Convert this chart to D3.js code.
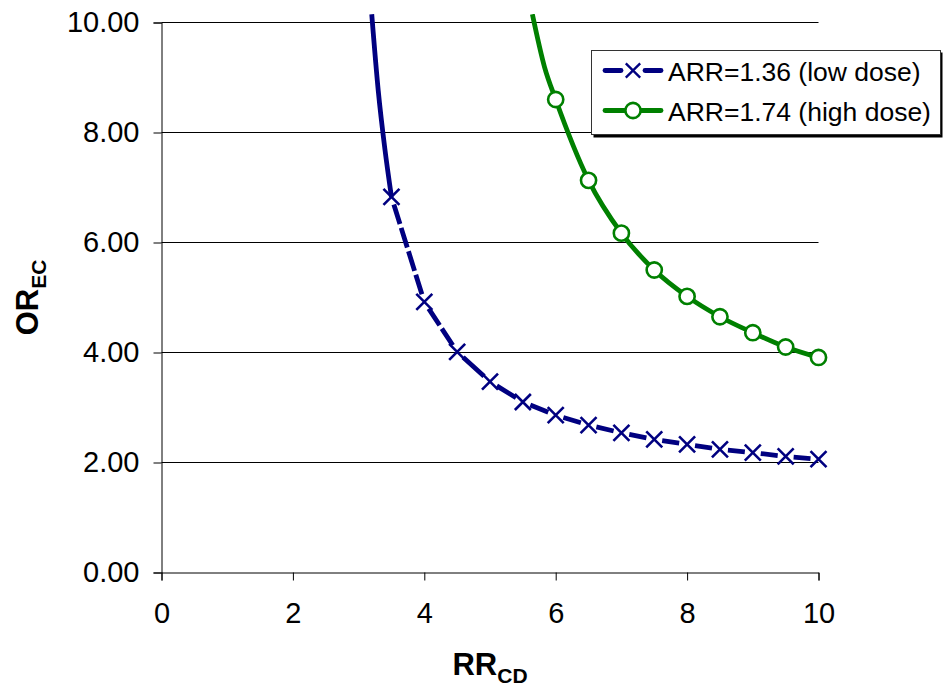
<!DOCTYPE html>
<html>
<head>
<meta charset="utf-8">
<script src="https://cdn.jsdelivr.net/npm/d3@7"></script>
<style>
    html, body { margin: 0; padding: 0; background: #fff; }
    svg text { font-family: Arial, 'Liberation Sans', sans-serif; fill: #000; }
</style>
</head>
<body>
<div id="chart"></div>
<script>
// values
const xTicks = [0, 2, 4, 6, 8, 10];
const yTicks = [0, 2, 4, 6, 8, 10];

const lowDoseRR = [3.5, 4, 4.5, 5, 5.5, 6, 6.5, 7, 7.5, 8, 8.5, 9, 9.5, 10];
const lowDoseOR = [6.83, 4.92, 4.01, 3.47, 3.10, 2.86, 2.68, 2.54, 2.42, 2.33, 2.24, 2.18, 2.11, 2.06];
// unmarked steep part running off the top of the plot
const lowDoseLeadRR = [3.2, 3.3, 3.4, 3.5];
const lowDoseLeadOR = [10.15, 8.75, 7.7, 6.83];

const highDoseRR = [6, 6.5, 7, 7.5, 8, 8.5, 9, 9.5, 10];
const highDoseOR = [8.60, 7.13, 6.17, 5.50, 5.02, 4.65, 4.36, 4.10, 3.91];
const highDoseLeadRR = [5.645, 5.83];
const highDoseLeadOR = [10.15, 9.19];

const legendLabels = ['ARR=1.36 (low dose)', 'ARR=1.74 (high dose)'];

let width = 951,
    height = 690,
    plot = {left: 161.5, right: 818.5, top: 22.5, bottom: 572.5},
    navy = '#000080',
    green = '#008000',
    lineWidth = 4.8,
    tickFont = '29px';

let svg = d3.select('#chart').append('svg')
    .attr('width', width)
    .attr('height', height);

let x = d3.scaleLinear().domain([0, 10]).range([plot.left, plot.right]);
let y = d3.scaleLinear().domain([0, 10]).range([plot.bottom, plot.top]);

svg.append('defs').append('clipPath')
    .attr('id', 'plotClip')
    .append('rect')
    .attr('x', plot.left)
    .attr('y', 14)
    .attr('width', plot.right - plot.left + 20)
    .attr('height', plot.bottom - 14);

// gridlines
svg.append('g')
    .selectAll('line')
    .data(yTicks.filter(d => d > 0))
    .join('line')
    .attr('x1', plot.left)
    .attr('x2', plot.right)
    .attr('y1', d => y(d))
    .attr('y2', d => y(d))
    .attr('stroke', '#000')
    .attr('stroke-width', 1);

// y axis
let yAxis = svg.append('g')
    .attr('transform', `translate(${plot.left}, 0)`)
    .call(d3.axisLeft(y).tickValues(yTicks).tickSize(8).tickPadding(14).tickFormat(d3.format('.2f')));
yAxis.select('.domain').attr('stroke', '#000');
yAxis.selectAll('.tick line').attr('stroke', '#000');
yAxis.selectAll('.tick text')
    .style('font-size', tickFont)
    .attr('font-family', null);

// x axis
let xAxis = svg.append('g')
    .attr('transform', `translate(0, ${plot.bottom})`)
    .call(d3.axisBottom(x).tickValues(xTicks).tickSize(8).tickPadding(22).tickFormat(d3.format('d')));
xAxis.select('.domain').attr('stroke', '#000');
xAxis.selectAll('.tick line').attr('stroke', '#000');
xAxis.selectAll('.tick text')
    .style('font-size', tickFont)
    .attr('font-family', null);

// axis titles
let xTitle = svg.append('text')
    .attr('x', (plot.left + plot.right) / 2)
    .attr('y', 675)
    .attr('text-anchor', 'middle')
    .style('font-size', '31px')
    .style('font-weight', 'bold');
xTitle.append('tspan').text('RR');
xTitle.append('tspan').attr('dy', 8).style('font-size', '21px').text('CD');

let yTitle = svg.append('text')
    .attr('transform', `translate(38, ${(plot.top + plot.bottom) / 2}) rotate(-90)`)
    .attr('text-anchor', 'middle')
    .style('font-size', '31px')
    .style('font-weight', 'bold');
yTitle.append('tspan').text('OR');
yTitle.append('tspan').attr('dy', 8).style('font-size', '21px').text('EC');

let lines = svg.append('g').attr('clip-path', 'url(#plotClip)');

const curved = d3.line()
    .x(d => x(d[0]))
    .y(d => y(d[1]))
    .curve(d3.curveMonotoneX);

// high dose: solid green
let highPoints = d3.zip(highDoseLeadRR.concat(highDoseRR), highDoseLeadOR.concat(highDoseOR));
lines.append('path')
    .attr('d', curved(highPoints))
    .attr('fill', 'none')
    .attr('stroke', green)
    .attr('stroke-width', lineWidth);

// low dose: solid lead-in, then dashed segments restarting at every point
lines.append('path')
    .attr('d', curved(d3.zip(lowDoseLeadRR, lowDoseLeadOR)))
    .attr('fill', 'none')
    .attr('stroke', navy)
    .attr('stroke-width', lineWidth);

let lowPoints = d3.zip(lowDoseRR, lowDoseOR);
lines.append('g')
    .selectAll('path')
    .data(d3.pairs(lowPoints))
    .join('path')
    .attr('d', d => d3.line().x(p => x(p[0])).y(p => y(p[1]))(d))
    .attr('fill', 'none')
    .attr('stroke', navy)
    .attr('stroke-width', lineWidth)
    .attr('stroke-dasharray', function () {
        return dashFor(this.getTotalLength());
    });

function dashFor(len) {
    const pad = 8, dash = 22, gap = 4;
    const inner = len - 2 * pad;
    if (inner <= 0) return `0,${len}`;
    const n = Math.max(1, Math.round((inner + gap) / (dash + gap)));
    const d = (inner - (n - 1) * gap) / n;
    let arr = [0, pad];
    for (let i = 0; i < n; i++) {
        arr.push(d, i < n - 1 ? gap : len);
    }
    return arr.join(',');
}

// markers
const crossPath = 'M-8,-8L8,8M-8,8L8,-8';

svg.append('g')
    .selectAll('path')
    .data(lowPoints)
    .join('path')
    .attr('transform', d => `translate(${x(d[0])}, ${y(d[1])})`)
    .attr('d', crossPath)
    .attr('fill', 'none')
    .attr('stroke', navy)
    .attr('stroke-width', 2.6);

svg.append('g')
    .selectAll('circle')
    .data(d3.zip(highDoseRR, highDoseOR))
    .join('circle')
    .attr('cx', d => x(d[0]))
    .attr('cy', d => y(d[1]))
    .attr('r', 7.6)
    .attr('fill', '#fff')
    .attr('stroke', green)
    .attr('stroke-width', 2.6);

// legend
let legend = svg.append('g');
legend.append('rect')
    .attr('x', 593.5)
    .attr('y', 52.5)
    .attr('width', 349)
    .attr('height', 85)
    .attr('fill', '#000');
legend.append('rect')
    .attr('x', 591.5)
    .attr('y', 50.5)
    .attr('width', 349)
    .attr('height', 84)
    .attr('fill', '#fff')
    .attr('stroke', '#333')
    .attr('stroke-width', 1);

const rowY = [70.5, 110.5];

// blue sample: two solid pieces either side of the cross
legend.append('g')
    .selectAll('line')
    .data([[605, 621], [645, 661]])
    .join('line')
    .attr('x1', d => d[0])
    .attr('x2', d => d[1])
    .attr('y1', rowY[0])
    .attr('y2', rowY[0])
    .attr('stroke', navy)
    .attr('stroke-width', lineWidth)
    .attr('stroke-linecap', 'round');
legend.append('path')
    .attr('transform', `translate(633, ${rowY[0]}) scale(0.9)`)
    .attr('d', crossPath)
    .attr('fill', 'none')
    .attr('stroke', navy)
    .attr('stroke-width', 2.6);

legend.append('line')
    .attr('x1', 605)
    .attr('x2', 661)
    .attr('y1', rowY[1])
    .attr('y2', rowY[1])
    .attr('stroke', green)
    .attr('stroke-width', lineWidth)
    .attr('stroke-linecap', 'round');
legend.append('circle')
    .attr('cx', 633)
    .attr('cy', rowY[1])
    .attr('r', 7.6)
    .attr('fill', '#fff')
    .attr('stroke', green)
    .attr('stroke-width', 2.6);

legend.selectAll('text.label')
    .data(legendLabels)
    .join('text')
    .attr('class', 'label')
    .attr('x', 668)
    .attr('y', (d, i) => rowY[i] + 10.5)
    .style('font-size', '26.5px')
    .text(d => d);
</script>
</body>
</html>
